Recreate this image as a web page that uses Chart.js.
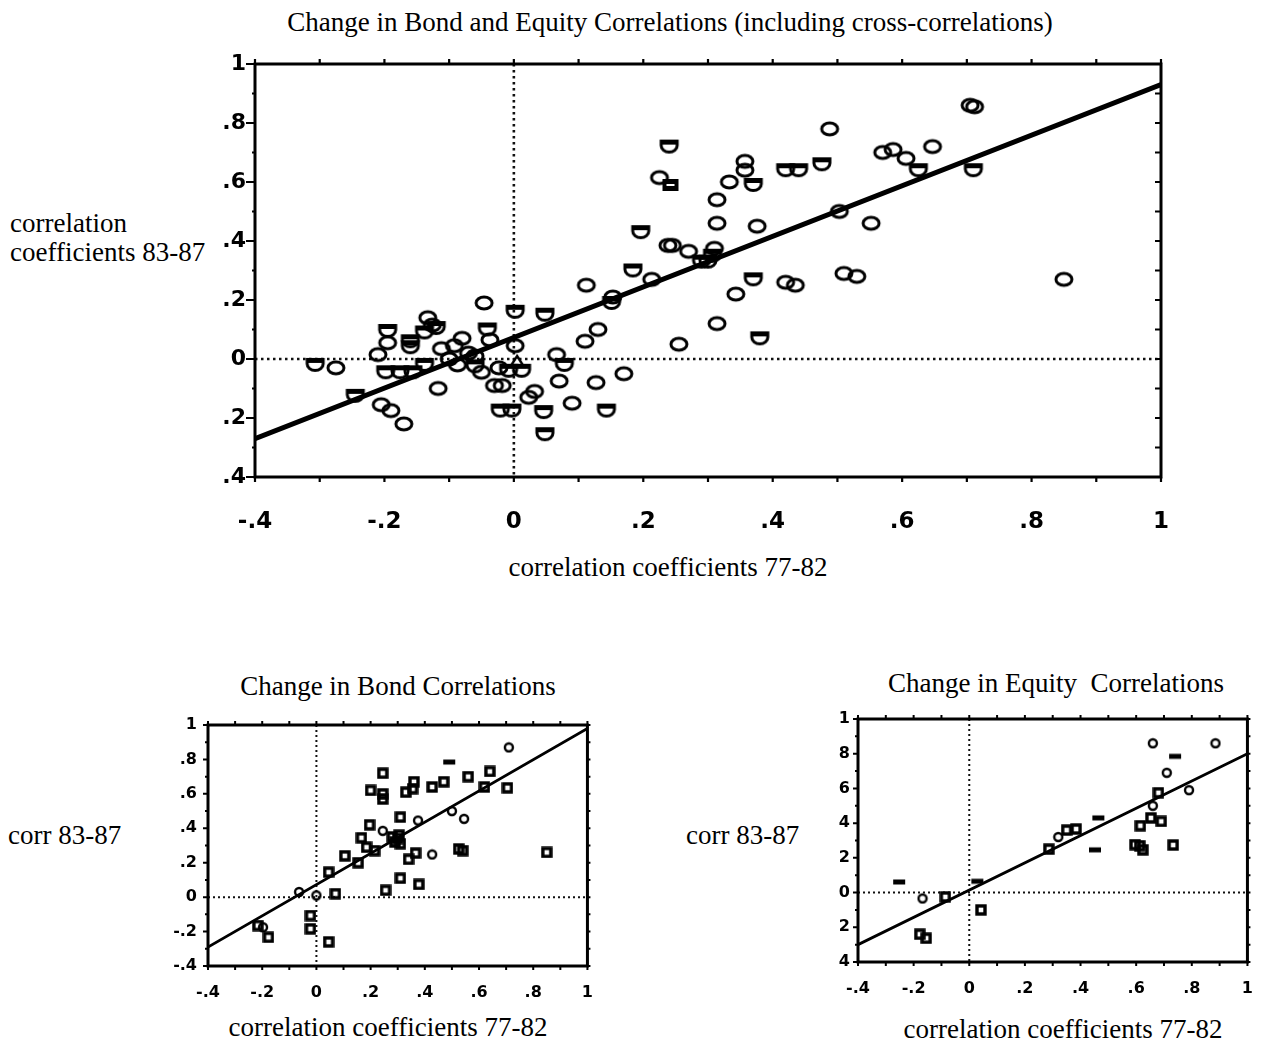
<!DOCTYPE html>
<html><head><meta charset="utf-8">
<script src="https://cdn.jsdelivr.net/npm/chart.js@4.4.1/dist/chart.umd.min.js"></script>
<style>
html,body{margin:0;padding:0;background:#fff;}
#wrap{position:relative;width:1270px;height:1044px;background:#fff;overflow:hidden;}
canvas{position:absolute;}
.t{position:absolute;font-family:"Liberation Serif","DejaVu Serif",serif;color:#000;white-space:nowrap;line-height:1;font-size:27px;}
</style></head>
<body><div id="wrap">
<div class="t" style="left:0;width:1340px;text-align:center;top:9px;">Change in Bond and Equity Correlations (including cross-correlations)</div>
<div class="t" style="left:10px;top:210px;">correlation</div>
<div class="t" style="left:10px;top:239px;">coefficients 83-87</div>
<div class="t" style="left:0;width:1336px;text-align:center;top:554px;">correlation coefficients 77-82</div>
<div class="t" style="left:0;width:796px;text-align:center;top:673px;">Change in Bond Correlations</div>
<div class="t" style="left:8px;top:822px;">corr 83-87</div>
<div class="t" style="left:0;width:776px;text-align:center;top:1014px;">correlation coefficients 77-82</div>
<div class="t" style="left:0;width:2112px;text-align:center;top:670px;">Change in Equity&nbsp; Correlations</div>
<div class="t" style="left:686px;top:822px;">corr 83-87</div>
<div class="t" style="left:0;width:2126px;text-align:center;top:1016px;">correlation coefficients 77-82</div>
<canvas id="cMain" width="1030" height="510" style="left:170px;top:40px;width:1030px;height:510px"></canvas>
<canvas id="cBond" width="470" height="320" style="left:140px;top:700px;width:470px;height:320px"></canvas>
<canvas id="cEq" width="470" height="330" style="left:800px;top:695px;width:470px;height:330px"></canvas>
</div>
<script>
// ---------- DATA ----------
const tickValues = [-0.4, -0.2, 0, 0.2, 0.4, 0.6, 0.8, 1];
const xTickLabels = ['-.4', '-.2', '0', '.2', '.4', '.6', '.8', '1'];
const mainYTickLabels = ['.4', '.2', '0', '.2', '.4', '.6', '.8', '1'];
const bondYTickLabels = ['-.4', '-.2', '0', '.2', '.4', '.6', '.8', '1'];
const eqYTickLabels = ['4', '2', '0', '2', '4', '6', '8', '1'];

// main chart: bond and equity correlations (77-82 vs 83-87)
const mainOvals = [
  [0.705,0.86],[0.712,0.855],[0.488,0.78],[0.57,0.70],[0.586,0.71],[0.606,0.68],[0.647,0.72],
  [0.357,0.67],[0.357,0.64],[0.225,0.615],[0.333,0.60],[0.314,0.54],[0.503,0.50],[0.552,0.46],
  [0.314,0.46],[0.376,0.45],[0.245,0.385],[0.238,0.385],[0.27,0.365],[0.31,0.375],[0.112,0.25],
  [0.213,0.27],[0.153,0.21],[0.343,0.22],[0.42,0.26],[0.435,0.25],[0.51,0.29],[0.53,0.28],
  [0.85,0.27],[0.255,0.05],[0.314,0.12],[0.13,0.10],[0.11,0.06],
  [-0.275,-0.03],[-0.205,-0.155],[-0.19,-0.175],[-0.17,-0.22],[-0.195,0.055],[-0.21,0.015],
  [-0.133,0.14],[-0.126,0.115],[-0.117,-0.10],[-0.112,0.035],[-0.092,0.045],[-0.08,0.07],
  [-0.10,0.0],[-0.07,0.02],[-0.046,0.19],[-0.037,0.065],[-0.05,-0.045],[-0.03,-0.09],
  [-0.018,-0.09],[-0.023,-0.03],[0.002,0.045],[0.066,0.015],[0.023,-0.13],[0.032,-0.11],
  [0.07,-0.075],[0.09,-0.15],[0.127,-0.08],[0.17,-0.05],[-0.06,0.01],[-0.087,-0.02]
];
const mainCups = [
  [0.24,0.72],[0.42,0.64],[0.44,0.64],[0.476,0.66],[0.625,0.64],[0.71,0.64],[0.37,0.59],
  [0.196,0.43],[0.29,0.33],[0.30,0.33],[0.307,0.35],[0.184,0.30],[0.151,0.19],
  [0.37,0.27],[0.38,0.07],[-0.307,-0.02],[-0.245,-0.125],[-0.195,0.095],[-0.198,-0.045],
  [-0.176,-0.045],[-0.156,-0.045],[-0.138,-0.02],[-0.16,0.06],[-0.16,0.04],[-0.12,0.105],
  [-0.138,0.09],[-0.041,0.10],[-0.06,-0.025],[-0.021,-0.175],[-0.003,-0.175],[0.002,0.16],
  [0.048,0.15],[0.012,-0.04],[-0.008,-0.04],[0.078,-0.02],[0.046,-0.18],[0.048,-0.255],[0.143,-0.175]
];
const mainBoxes = [[0.242,0.59]];
const mainTriangles = [[0.005,-0.01]];
const mainFit = [[-0.4,-0.27],[1,0.93]];

// bond correlations
const bondSquares = [
  [0.245,0.72],[0.36,0.67],[0.355,0.63],[0.427,0.64],[0.47,0.67],[0.56,0.70],[0.64,0.73],
  [0.62,0.64],[0.705,0.635],[0.2,0.62],[0.245,0.60],[0.245,0.57],[0.33,0.61],[0.31,0.465],
  [0.196,0.42],[0.166,0.345],[0.28,0.35],[0.30,0.34],[0.305,0.36],[0.29,0.32],[0.31,0.31],
  [0.185,0.29],[0.215,0.27],[0.105,0.24],[0.154,0.20],[0.34,0.22],[0.366,0.256],[0.525,0.28],
  [0.54,0.27],[0.85,0.26],[0.045,0.145],[0.31,0.11],[0.378,0.074],[0.255,0.04],[0.07,0.02],
  [-0.216,-0.165],[-0.177,-0.233],[-0.022,-0.107],[-0.022,-0.184],[0.045,-0.26]
];
const bondCircles = [
  [0.71,0.87],[0.375,0.445],[0.50,0.50],[0.545,0.455],[0.245,0.385],[0.427,0.248],
  [-0.064,0.03],[0.0,0.01],[-0.197,-0.175]
];
const bondDashes = [[0.49,0.785]];
const bondFit = [[-0.4,-0.29],[1,0.98]];

// equity correlations
const eqCircles = [[0.66,0.86],[0.885,0.86],[0.71,0.69],[0.79,0.59],[0.32,0.32],[-0.168,-0.034],[0.66,0.50]];
const eqSquares = [
  [0.68,0.575],[0.653,0.43],[0.69,0.41],[0.615,0.385],[0.384,0.366],[0.35,0.36],[0.286,0.25],
  [0.596,0.276],[0.613,0.27],[0.624,0.246],[0.733,0.274],[0.042,-0.10],[-0.178,-0.24],
  [-0.155,-0.263],[-0.086,-0.025]
];
const eqDashes = [[0.74,0.785],[0.464,0.43],[0.452,0.246],[-0.252,0.061],[0.029,0.065]];
const eqFit = [[-0.4,-0.30],[1,0.80]];

// ---------- MARKERS ----------
function mk(w, h, draw) {
  const c = document.createElement('canvas');
  c.width = w; c.height = h;
  const g = c.getContext('2d');
  g.strokeStyle = '#000'; g.fillStyle = '#000';
  draw(g, w, h);
  return c;
}
const ovalImg = mk(22, 18, (g) => { g.lineWidth = 3; g.beginPath(); g.ellipse(11, 9, 8, 6, 0, 0, Math.PI*2); g.stroke(); });
const cupImg = mk(22, 18, (g) => {
  g.lineWidth = 3; g.beginPath();
  g.moveTo(3, 3.5); g.lineTo(19, 3.5); g.lineTo(19, 8);
  g.ellipse(11, 8, 8, 6.5, 0, 0, Math.PI); g.closePath(); g.stroke();
  g.beginPath(); g.lineWidth = 2; g.moveTo(4, 6); g.lineTo(18, 6); g.stroke();
});
const boxImg = mk(22, 18, (g) => { g.fillRect(3, 3, 16, 12); g.fillStyle = '#fff'; g.fillRect(7, 8, 8, 2); });
const triImg = mk(20, 16, (g) => { g.lineWidth = 2.4; g.beginPath(); g.moveTo(10, 2); g.lineTo(17, 13); g.lineTo(3, 13); g.closePath(); g.stroke(); });
const sqImg = mk(12, 12, (g) => { g.lineWidth = 3.4; g.strokeRect(2, 2, 8, 8); });
const circImg = mk(12, 12, (g) => { g.lineWidth = 2.4; g.beginPath(); g.arc(6, 6, 4, 0, Math.PI*2); g.stroke(); });
const dashImg = mk(14, 8, (g) => { g.fillRect(1, 1.5, 12, 5); });

// ---------- PLUGIN: frame, ticks, zero lines ----------
function minorVals() {
  const out = [];
  for (let i = 0; i < tickValues.length; i++) {
    out.push(tickValues[i]);
    if (i < tickValues.length - 1) out.push((tickValues[i] + tickValues[i+1]) / 2);
  }
  return out;
}
const framePlugin = {
  id: 'frame',
  beforeDatasetsDraw(chart, args, o) {
    const { ctx, chartArea: a, scales } = chart;
    const x0 = scales.x.getPixelForValue(0), y0 = scales.y.getPixelForValue(0);
    ctx.save();
    ctx.strokeStyle = '#111'; ctx.lineWidth = o.zeroW; ctx.setLineDash(o.dash);
    ctx.beginPath(); ctx.moveTo(x0, a.top); ctx.lineTo(x0, a.bottom); ctx.stroke();
    ctx.beginPath(); ctx.moveTo(a.left, y0); ctx.lineTo(a.right, y0); ctx.stroke();
    ctx.restore();
  },
  afterDatasetsDraw(chart, args, o) {
    const { ctx, chartArea: a, scales } = chart;
    ctx.save();
    ctx.strokeStyle = '#000'; ctx.lineWidth = o.frameW;
    ctx.strokeRect(a.left, a.top, a.right - a.left, a.bottom - a.top);
    ctx.lineWidth = o.tickW;
    const vals = minorVals();
    vals.forEach((v, i) => {
      const major = (i % 2 === 0);
      const yp = scales.y.getPixelForValue(v);
      const xp = scales.x.getPixelForValue(v);
      ctx.beginPath();
      const ll = major ? o.leftMajor : o.leftMinor;
      ctx.moveTo(a.left - ll, yp); ctx.lineTo(a.left, yp);
      ctx.moveTo(a.right + o.rightOut, yp); ctx.lineTo(a.right - o.rightIn, yp);
      ctx.moveTo(xp, a.bottom); ctx.lineTo(xp, a.bottom + o.bottomLen);
      ctx.moveTo(xp, a.top); ctx.lineTo(xp, a.top - o.topLen);
      ctx.stroke();
    });
    ctx.restore();
  }
};

function lbl(arr) {
  return (v) => {
    for (let i = 0; i < tickValues.length; i++) if (Math.abs(tickValues[i] - v) < 1e-6) return arr[i];
    return '';
  };
}
const pts = (arr) => arr.map(p => ({ x: p[0], y: p[1] }));

function build(id, g) {
  const fontX = { family: 'DejaVu Sans', weight: 'bold', size: g.fx };
  const fontY = { family: 'DejaVu Sans', weight: 'bold', size: g.fy };
  const hidden = { display: false };
  const ds = g.sets.map(s => ({
    data: pts(s.d), pointStyle: s.img, pointRadius: 6, pointHoverRadius: 6,
    showLine: false, borderColor: '#000', backgroundColor: '#000'
  }));
  ds.push({ data: pts(g.fit), showLine: true, pointRadius: 0, borderColor: '#000',
    borderWidth: g.fitW, borderCapStyle: 'round', fill: false, tension: 0 });
  new Chart(document.getElementById(id), {
    type: 'scatter',
    data: { datasets: ds },
    options: {
      responsive: false, animation: false, devicePixelRatio: 1,
      layout: { padding: 0 },
      plugins: { legend: hidden, tooltip: { enabled: false }, frame: g.frame },
      scales: {
        x: { type: 'linear', position: 'bottom', min: -0.4, max: 1,
          afterFit: s => { s.height = g.bottomH; },
          grid: { display: false, drawTicks: false }, border: hidden,
          ticks: { stepSize: 0.2, autoSkip: false, maxRotation: 0, color: '#000', font: fontX, padding: g.padX, callback: lbl(xTickLabels) } },
        y: { type: 'linear', position: 'left', min: -0.4, max: 1,
          afterFit: s => { s.width = g.leftW; },
          grid: { display: false, drawTicks: false }, border: hidden,
          ticks: { stepSize: 0.2, autoSkip: false, color: '#000', font: fontY, padding: g.padY, callback: lbl(g.yl) } },
        x2: { type: 'linear', axis: 'x', position: 'top', min: -0.4, max: 1,
          afterFit: s => { s.height = g.topH; },
          grid: hidden, border: hidden, ticks: hidden },
        y2: { type: 'linear', axis: 'y', position: 'right', min: -0.4, max: 1,
          afterFit: s => { s.width = g.rightW; },
          grid: hidden, border: hidden, ticks: hidden }
      }
    },
    plugins: [framePlugin]
  });
}

build('cMain', {
  leftW: 85, rightW: 35, topH: 24, bottomH: 73, fx: 23, fy: 22, padX: 31, padY: 9, fitW: 5,
  yl: mainYTickLabels, fit: mainFit,
  sets: [ { d: mainOvals, img: ovalImg }, { d: mainCups, img: cupImg }, { d: mainBoxes, img: boxImg }, { d: mainTriangles, img: triImg } ],
  frame: { zeroW: 2.6, dash: [2.5, 3.5], frameW: 3, tickW: 2.2, leftMajor: 9, leftMinor: 3, rightOut: 0, rightIn: 6, bottomLen: 5, topLen: 5 }
});
build('cBond', {
  leftW: 68, rightW: 17, topH: 25, bottomH: 54, fx: 16, fy: 16, padX: 17, padY: 11, fitW: 2.8,
  yl: bondYTickLabels, fit: bondFit,
  sets: [ { d: bondSquares, img: sqImg }, { d: bondCircles, img: circImg }, { d: bondDashes, img: dashImg } ],
  frame: { zeroW: 2, dash: [2, 3], frameW: 3, tickW: 2, leftMajor: 5, leftMinor: 3, rightOut: 3, rightIn: 0, bottomLen: 4, topLen: 4 }
});
build('cEq', {
  leftW: 58, rightW: 5, topH: 24, bottomH: 63, fx: 16, fy: 16, padX: 17, padY: 8, fitW: 2.8,
  yl: eqYTickLabels, fit: eqFit,
  sets: [ { d: eqCircles, img: circImg }, { d: eqSquares, img: sqImg }, { d: eqDashes, img: dashImg } ],
  frame: { zeroW: 2, dash: [2, 3], frameW: 3, tickW: 2, leftMajor: 5, leftMinor: 3, rightOut: 3, rightIn: 0, bottomLen: 4, topLen: 4 }
});
</script>
</body></html>
